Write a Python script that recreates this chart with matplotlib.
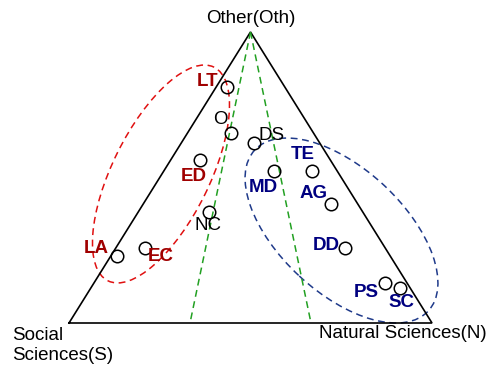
import numpy as np
import matplotlib
matplotlib.use("Agg")
import matplotlib.pyplot as plt
from matplotlib.patches import Ellipse

plt.rcParams['font.family'] = ['Liberation Sans', 'DejaVu Sans']

# ternary compositions (Social, Natural, Other) for each field
names = ['LT', 'O', 'DS', 'ED', 'MD', 'TE', 'AG', 'NC', 'LA', 'EC', 'DD', 'PS', 'SC']
soc = [0.159, 0.227, 0.181, 0.359, 0.174, 0.070, 0.074, 0.424, 0.753, 0.662, 0.111, 0.061, 0.028]
nat = [0.030, 0.120, 0.200, 0.081, 0.304, 0.408, 0.517, 0.195, 0.017, 0.080, 0.631, 0.802, 0.852]
oth = [0.811, 0.653, 0.619, 0.560, 0.522, 0.522, 0.409, 0.381, 0.230, 0.258, 0.258, 0.137, 0.120]
group = ['soc', 'oth', 'oth', 'soc', 'nat', 'nat', 'nat', 'oth', 'soc', 'soc', 'nat', 'nat', 'nat']

# label offsets (pixels) from each circle
lab_dx = [-20, -11, 18, -6, -11, -9, -17, -1, -21, 16, -19, -19, 1]
lab_dy = [-5, -13, -7, 16, 16, -17, -10, 13, -8, 9, -2, 9, 14]

# dividing lines at N/(S+N) = 1/3 and 2/3
split_ratios = [1 / 3, 2 / 3]

H = 291 / 363.  # triangle height (squashed like the original)


def tern(s, n, o):
    s, n, o = np.asarray(s), np.asarray(n), np.asarray(o)
    tot = s + n + o
    n, o = n / tot, o / tot
    return n + 0.5 * o, o * H


fig = plt.figure(figsize=(4.96, 3.67), dpi=100)
ax = fig.add_axes([0, 0, 1, 1])
ax.set_xlim(-69 / 363., 427 / 363.)
ax.set_ylim(-44 / 363., 323 / 363.)
ax.axis('off')

# triangle
tx, ty = tern([1, 0, 0, 1], [0, 1, 0, 0], [0, 0, 1, 0])
ax.plot(tx, ty, color='black', lw=1.2, solid_joinstyle='miter')

# green split lines from the apex
for r in split_ratios:
    lx, ly = tern([0, 1 - r], [0, r], [1, 0])
    ax.plot(lx, ly, color='#22a022', lw=1.1, ls=(0, (4.5, 3)))

# group ellipses
ax.add_patch(Ellipse((0.2534, 0.4105), 0.657, 0.267, angle=63.6, fill=False,
                     ec='#e01010', lw=1.1, ls=(0, (4.5, 3))))
ax.add_patch(Ellipse((0.7507, 0.2548), 0.652, 0.342, angle=-42.9, fill=False,
                     ec='#1f3a8a', lw=1.1, ls=(0, (4.5, 3))))

px, py = tern(soc, nat, oth)
ax.plot(px, py, 'o', ms=9, mfc='none', mec='black', mew=1.1)

colors = {'soc': '#a00000', 'nat': '#000080', 'oth': 'black'}
for i, nm in enumerate(names):
    g = group[i]
    ax.annotate(nm, (px[i], py[i]), xytext=(lab_dx[i] * 0.72, -lab_dy[i] * 0.72),
                textcoords='offset points', ha='center', va='center',
                fontsize=13.5, color=colors[g],
                fontweight='normal' if g == 'oth' else 'bold')

# vertex labels
ax.text(0.5, H + 14 / 363., 'Other(Oth)', ha='center', va='center', fontsize=13.5)
ax.text(-57 / 363., -4 / 363., 'Social\nSciences(S)', ha='left', va='top',
        fontsize=13.5, linespacing=1.25)
ax.text(250 / 363., -11 / 363., 'Natural Sciences(N)', ha='left', va='center',
        fontsize=13.5)

fig.savefig('out.png', dpi=100)
